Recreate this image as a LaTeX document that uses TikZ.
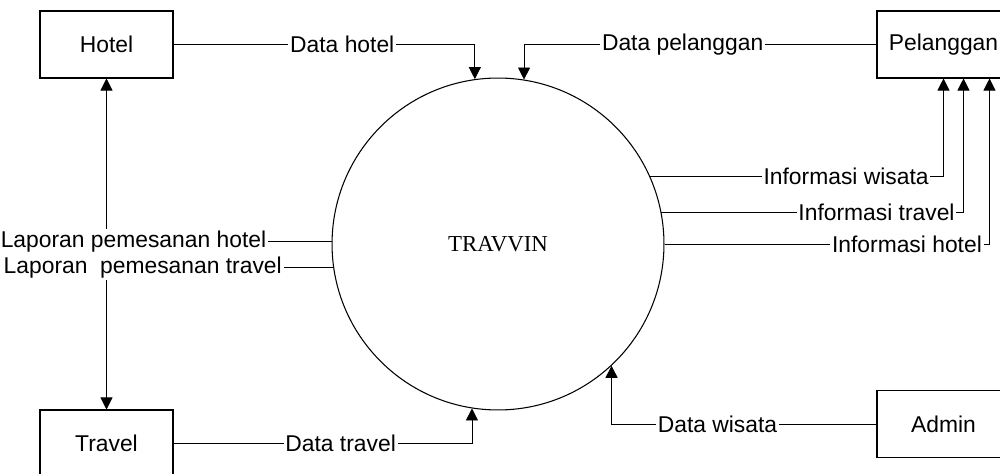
\documentclass[tikz,border=0pt]{standalone}
\usepackage{fontspec}
\setmainfont{Liberation Sans}
\newfontfamily\procfont{Liberation Serif}
\usetikzlibrary{
  arrows.meta,
  calc
}

\begin{document}
\begin{tikzpicture}[
    x=0.02cm, y=-0.02cm,
    font=\fontsize{13}{15}\selectfont,
    entity/.style={
        draw,
        rectangle,
        line width=0.6pt,
        minimum width=2.66cm,
        minimum height=1.34cm,
        inner sep=0pt
    },
    process/.style={
        draw,
        circle,
        line width=0.6pt,
        minimum size=6.64cm,
        inner sep=0pt,
        font=\procfont\fontsize{13}{15}\selectfont
    },
    flow/.style={-{Triangle[length=0.24cm,width=0.24cm]}, line width=0.5pt},
    lbl/.style={fill=white, inner sep=1pt}
]

\useasboundingbox (0,0) rectangle (1000,473);
\clip (0,0) rectangle (1000,473);

% ----------------------------------------------------------
% NODES
% ----------------------------------------------------------

\node[process] (travvin) at (498,244) {TRAVVIN};

\node[entity] (hotel) at (106.5,44.5) {Hotel};
\node[entity] (travel) at (106.5,443.5) {Travel};
\node[entity] (pelanggan) at (943.5,44.5) {Pelanggan};
\node[entity] (admin) at (943.5,424) {Admin};

% ----------------------------------------------------------
% ARROWS
% ----------------------------------------------------------

\draw[flow] (hotel.east) -| (travvin.98.7)
    node[lbl, pos=0.28] {Data hotel};
\draw[flow] (pelanggan.west) -| (travvin.81.7)
    node[lbl, pos=0.275] {Data pelanggan};
\draw[flow] (travel.east) -| (travvin.261.3)
    node[lbl, pos=0.28] {Data travel};
\draw[flow] (admin.west) -| (travvin.313.4)
    node[lbl, pos=0.30] {Data wisata};

\draw[flow] (travvin.179.7) -| (hotel.south)
    node[lbl, pos=0.44] {Laporan pemesanan hotel};
\draw[flow] (travvin.188.3) -| (travel.north)
    node[lbl, pos=0.42] {Laporan\ \ pemesanan travel};

\draw[flow] (travvin.24.9) -| (pelanggan.south)
    node[lbl, pos=0.334] {Informasi wisata};
\draw[flow] (travvin.11.5) -| ($(pelanggan.south)+(20,0)$)
    node[lbl, pos=0.356] {Informasi travel};
\draw[flow] (travvin.0.7) -| ($(pelanggan.south)+(46,0)$)
    node[lbl, pos=0.373] {Informasi hotel};

\end{tikzpicture}
\end{document}
